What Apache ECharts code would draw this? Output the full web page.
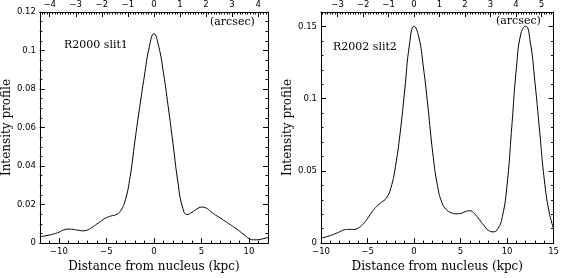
<!DOCTYPE html>
<html>
<head>
<meta charset="utf-8">
<script src="https://cdn.jsdelivr.net/npm/echarts@6/dist/echarts.min.js"></script>
<style>html,body{margin:0;padding:0;background:#fff}#c{width:562px;height:278px}</style>
</head>
<body>
<div id="c"></div>
<script>
// ---- data (kpc, intensity), every 0.5 kpc ----
const kpc1 = [-12,-11.5,-11,-10.5,-10,-9.5,-9,-8.5,-8,-7.5,-7,-6.5,-6,-5.5,-5,-4.5,-4,-3.5,-3,-2.5,-2,-1.5,-1,-0.5,0,0.5,1,1.5,2,2.5,3,3.5,4,4.5,5,5.5,6,6.5,7,7.5,8,8.5,9,9.5,10,10.5,11,11.5,12];
const int1 = [0.0033,0.0037,0.0042,0.0048,0.0056,0.0068,0.0073,0.0071,0.0067,0.0064,0.0068,0.0082,0.0099,0.0117,0.0132,0.0141,0.0147,0.0168,0.0225,0.0345,0.053,0.0705,0.0868,0.1015,0.1087,0.1022,0.0885,0.071,0.052,0.0325,0.0188,0.0148,0.0160,0.0176,0.0187,0.0182,0.0163,0.0145,0.0130,0.0113,0.0097,0.0080,0.0062,0.0043,0.0024,0.0017,0.0018,0.0023,0.0029];
const kpc2 = [-10,-9.5,-9,-8.5,-8,-7.5,-7,-6.5,-6,-5.5,-5,-4.5,-4,-3.5,-3,-2.5,-2,-1.5,-1,-0.5,0,0.5,1,1.5,2,2.5,3,3.5,4,4.5,5,5.5,6,6.5,7,7.5,8,8.5,9,9.5,10,10.5,11,11.5,12,12.5,13,13.5,14,14.5,15];
const int2 = [0.0034,0.0042,0.0052,0.0064,0.0078,0.0092,0.0095,0.0094,0.0104,0.0130,0.0170,0.0218,0.0255,0.0282,0.0310,0.0380,0.0530,0.0760,0.1060,0.1370,0.1502,0.1430,0.1220,0.0940,0.0630,0.0405,0.0280,0.0230,0.0210,0.0203,0.0205,0.0218,0.0224,0.0203,0.0165,0.0123,0.0088,0.0078,0.0098,0.0185,0.0403,0.0800,0.1210,0.1455,0.1502,0.1390,0.1110,0.0775,0.0440,0.0222,0.0100];

// ---- axes / ticks ----
const kpcPerArcsec = 2.74;
const xRange1 = [-12, 12], xRange2 = [-10, 15];
const yRange1 = [0, 0.12], yRange2 = [0, 0.16];
const xMajor1 = [-10,-5,0,5,10];
const xMajor2 = [-10,-5,0,5,10,15];
const arcMajor1 = [-4,-3,-2,-1,0,1,2,3,4];
const arcMajor2 = [-3,-2,-1,0,1,2,3,4,5];
const yMajor1 = [0,0.02,0.04,0.06,0.08,0.1,0.12];
const yMajor2 = [0,0.05,0.1,0.15];
const xMinorStep = 1, arcMinorStep = 0.1, yMinorStep1 = 0.005, yMinorStep2 = 0.01;

function steps(a, b, s) { const r = []; const n = Math.round((b - a) / s); for (let i = 0; i <= n; i++) r.push(+(a + i * s).toFixed(6)); return r; }
const fmt = v => String(v).replace('-', '\u2212');

const labelFont = { fontFamily: 'DejaVu Sans', fontSize: 8.5, color: '#000' };
const nameFont = { fontFamily: 'DejaVu Serif', fontSize: 12, color: '#000' };
const lineS = { show: true, onZero: false, lineStyle: { color: '#000', width: 1 } };
const noLine = { show: false, onZero: false };
const tk = (vals, len) => ({ inside: true, length: len, customValues: vals, lineStyle: { color: '#000', width: 1 } });

function panelAxes(gi, xr, yr, xMaj, arcMaj, yMaj, yMinStep) {
  const ar = [xr[0] / kpcPerArcsec, xr[1] / kpcPerArcsec];
  const xs = [
    { gridIndex: gi, type: 'value', position: 'bottom', min: xr[0], max: xr[1],
      name: 'Distance from nucleus (kpc)', nameLocation: 'middle', nameGap: 13, nameTextStyle: nameFont,
      axisLine: lineS, splitLine: { show: false }, axisTick: tk(xMaj, 5),
      axisLabel: { customValues: xMaj, formatter: fmt, margin: 4, ...labelFont } },
    { gridIndex: gi, type: 'value', position: 'bottom', min: xr[0], max: xr[1],
      axisLine: noLine, splitLine: { show: false }, axisTick: tk(steps(xr[0], xr[1], xMinorStep), 2.5),
      axisLabel: { show: false } },
    { gridIndex: gi, type: 'value', position: 'top', min: ar[0], max: ar[1],
      axisLine: lineS, splitLine: { show: false }, axisTick: tk(arcMaj, 5),
      axisLabel: { customValues: arcMaj, formatter: fmt, margin: 3, ...labelFont } },
    { gridIndex: gi, type: 'value', position: 'top', min: ar[0], max: ar[1],
      axisLine: noLine, splitLine: { show: false },
      axisTick: tk(steps(Math.ceil(ar[0] * 10) / 10, Math.floor(ar[1] * 10) / 10, arcMinorStep), 2.5),
      axisLabel: { show: false } }
  ];
  const yMin = steps(yr[0], yr[1], yMinStep);
  const ys = [
    { gridIndex: gi, type: 'value', position: 'left', min: yr[0], max: yr[1],
      name: 'Intensity profile', nameLocation: 'middle', nameGap: 21, nameTextStyle: nameFont,
      axisLine: lineS, splitLine: { show: false }, axisTick: tk(yMaj, 5),
      axisLabel: { customValues: yMaj, formatter: fmt, margin: 4, ...labelFont } },
    { gridIndex: gi, type: 'value', position: 'left', min: yr[0], max: yr[1],
      axisLine: noLine, splitLine: { show: false }, axisTick: tk(yMin, 2.5), axisLabel: { show: false } },
    { gridIndex: gi, type: 'value', position: 'right', min: yr[0], max: yr[1],
      axisLine: lineS, splitLine: { show: false }, axisTick: tk(yMaj, 5), axisLabel: { show: false } },
    { gridIndex: gi, type: 'value', position: 'right', min: yr[0], max: yr[1],
      axisLine: noLine, splitLine: { show: false }, axisTick: tk(yMin, 2.5), axisLabel: { show: false } }
  ];
  return { xs, ys };
}

const p1 = panelAxes(0, xRange1, yRange1, xMajor1, arcMajor1, yMajor1, yMinorStep1);
const p2 = panelAxes(1, xRange2, yRange2, xMajor2, arcMajor2, yMajor2, yMinorStep2);

const chart = echarts.init(document.getElementById('c'), null, { renderer: 'canvas' });
chart.setOption({
  animation: false,
  backgroundColor: '#fff',
  grid: [
    { left: 33, top: 12, width: 235, height: 238 },
    { left: 321, top: 12, width: 235, height: 238 }
  ],
  xAxis: [...p1.xs, ...p2.xs],
  yAxis: [...p1.ys, ...p2.ys],
  series: [
    { type: 'line', xAxisIndex: 0, yAxisIndex: 0, data: kpc1.map((x, i) => [x, int1[i]]),
      smooth: 0.5, showSymbol: false, lineStyle: { color: '#000', width: 1 } },
    { type: 'line', xAxisIndex: 4, yAxisIndex: 4, data: kpc2.map((x, i) => [x, int2[i]]),
      smooth: 0.5, showSymbol: false, lineStyle: { color: '#000', width: 1 } }
  ],
  graphic: [
    { type: 'text', left: 64, top: 40, style: { text: 'R2000 slit1', font: '11px "DejaVu Serif"', fill: '#000' } },
    { type: 'text', left: 210, top: 17, style: { text: '(arcsec)', font: '11px "DejaVu Serif"', fill: '#000' } },
    { type: 'text', left: 333, top: 42, style: { text: 'R2002 slit2', font: '11px "DejaVu Serif"', fill: '#000' } },
    { type: 'text', left: 496, top: 16, style: { text: '(arcsec)', font: '11px "DejaVu Serif"', fill: '#000' } }
  ]
});
</script>
</body>
</html>
